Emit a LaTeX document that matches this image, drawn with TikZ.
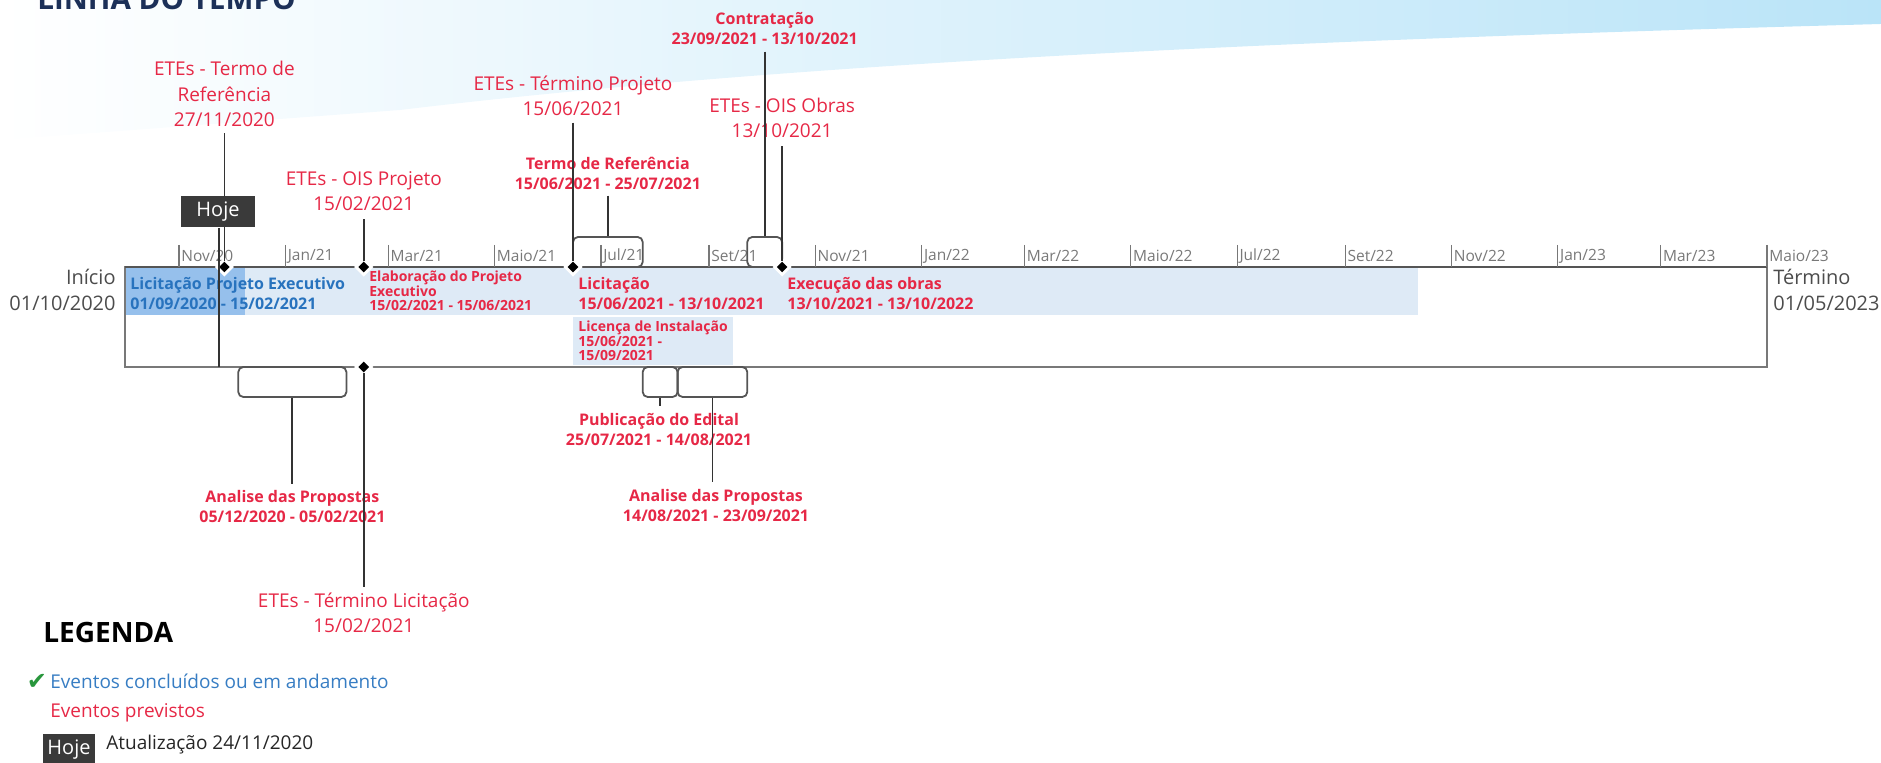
\documentclass[tikz,border=0pt]{standalone}
\usepackage{fontspec}
\setmainfont{Open Sans}
\newfontfamily\symfont{DejaVu Sans}
\usetikzlibrary{shapes.geometric,fit}
\definecolor{evred}{RGB}{230,40,70}
\definecolor{evblue}{RGB}{40,115,190}
\definecolor{legblue}{RGB}{55,125,195}
\definecolor{barblue}{RGB}{222,234,246}
\definecolor{progblue}{RGB}{150,192,236}
\definecolor{axisgray}{RGB}{85,85,85}
\definecolor{boxgray}{RGB}{120,120,120}
\definecolor{tickgray}{RGB}{120,120,120}
\definecolor{hojegray}{RGB}{58,58,58}
\definecolor{bandblue}{RGB}{186,228,248}
\definecolor{titleblue}{RGB}{28,48,88}
\definecolor{checkgreen}{RGB}{40,150,60}
\tikzset{
  big/.style={text=evred, font=\fontsize{9.5}{12.75}\selectfont, align=center, inner sep=0pt},
  lbl/.style={text=evred, font=\bfseries\fontsize{8}{10}\selectfont, align=center, inner sep=0pt},
  barlbl/.style={font=\bfseries\fontsize{8}{10}\selectfont, align=left, inner sep=0pt, anchor=west},
  barsmall/.style={text=evred, font=\bfseries\fontsize{7}{7.2}\selectfont, align=left, inner sep=0pt, anchor=west},
  tickline/.style={draw=tickgray, line width=0.6pt},
  ticklbl/.style={text=tickgray, font=\fontsize{7.75}{9}\selectfont, anchor=west, inner sep=0pt},
  conn/.style={draw=black!80, line width=0.9pt},
  bracket/.style={draw=axisgray, line width=0.9pt, rounded corners=2.5pt, inner sep=0pt},
  dmd/.style={diamond, fill=black, inner sep=0pt, minimum size=5.5pt, preaction={draw=white, line width=3pt}},
  hojebox/.style={fill=hojegray, text=white, font=\fontsize{10}{12}\selectfont, minimum width=37pt, minimum height=15.5pt, inner sep=0pt},
  side/.style={text=black!70, font=\fontsize{10}{13}\selectfont, inner sep=0pt},
  legtxt/.style={font=\fontsize{9.5}{11}\selectfont, anchor=west, inner sep=0pt}
}
\begin{document}
\begin{tikzpicture}[x=0.5pt, y=-0.5pt]
\useasboundingbox (0,0) rectangle (1881,763);
\clip (0,0) rectangle (1881,763);
% background band
\shade[left color=white, right color=bandblue] (0,0) -- (1881,0) -- (1881,24) .. controls (1300,40) and (800,62) .. (400,110) -- (0,140) -- cycle;
% title
\node[anchor=base west, text=titleblue, font=\bfseries\fontsize{14.8}{16}\selectfont, inner sep=0pt] (title) at (37,10) {LINHA DO TEMPO};
% bars
\fill[barblue] (125,268) rectangle (1418.4,315);
\fill[progblue] (125,268) rectangle (245,315);
\fill[barblue] (573,317) rectangle (733.3,365);
% bar labels
\node[barlbl, text=evblue] (bLPE) at (130,294) {Licitação Projeto Executivo\\01/09/2020 - 15/02/2021};
\node[barsmall] (bElab) at (369,291) {Elaboração do Projeto\\Executivo\\15/02/2021 - 15/06/2021};
\node[barlbl, text=evred] (bLic) at (578,294) {Licitação\\15/06/2021 - 13/10/2021};
\node[barlbl, text=evred] (bExe) at (787,294) {Execução das obras\\13/10/2021 - 13/10/2022};
\node[barsmall] (bLI) at (578,341) {Licença de Instalação\\15/06/2021 -\\15/09/2021};
% box and axis
\draw[draw=boxgray, line width=0.7pt] (125,267) rectangle (1767,367);
\draw[draw=axisgray, line width=0.8pt] (125,267) -- (1767,267);
% side labels
\node[side, anchor=east, align=right] (inicio) at (116,290) {Início\\01/10/2020};
\node[side, anchor=west, align=left] (termino) at (1773,290) {Término\\01/05/2023};
% month ticks
\foreach \xx/\m [count=\i] in {179.0/{Nov/20},285.4/{Jan/21},388.2/{Mar/21},494.5/{Maio/21},600.9/{Jul/21},708.9/{Set/21},815.3/{Nov/21},921.6/{Jan/22},1024.4/{Mar/22},1130.8/{Maio/22},1237.1/{Jul/22},1345.2/{Set/22},1451.5/{Nov/22},1557.8/{Jan/23},1660.6/{Mar/23},1767/{Maio/23}}{
  \draw[tickline] (\xx,245) -- (\xx,267);
  \node[ticklbl] (tk\i) at (\xx+2,256) {\m};
}
% brackets
\node[bracket, fit={(573,237) (642.7,267)}] (brTR) {};
\node[bracket, fit={(747.3,237) (782.1,267)}] (brCT) {};
\node[bracket, fit={(238.3,367) (346.4,397)}] (brAP1) {};
\node[bracket, fit={(642.7,367) (677.6,397)}] (brPE) {};
\node[bracket, fit={(677.6,367) (747.3,397)}] (brAP2) {};
% diamonds
\node[dmd] (dTR) at (224.4,267) {};
\node[dmd] (dOP) at (363.8,267) {};
\node[dmd] (dTP) at (573,267) {};
\node[dmd] (dOO) at (782.1,267) {};
\node[dmd] (dTL) at (363.8,367) {};
% labels
\node[big] (lTR) at (224.4,94) {ETEs - Termo de\\Referência\\27/11/2020};
\node[big] (lOP) at (363.8,191) {ETEs - OIS Projeto\\15/02/2021};
\node[big] (lTP) at (573,96) {ETEs - Término Projeto\\15/06/2021};
\node[big] (lOO) at (782.1,118) {ETEs - OIS Obras\\13/10/2021};
\node[lbl] (lTRb) at (607.85,173) {Termo de Referência\\15/06/2021 - 25/07/2021};
\node[lbl] (lCT) at (764.7,29) {Contratação\\23/09/2021 - 13/10/2021};
\node[lbl] (lAP1) at (292.4,507) {Analise das Propostas\\05/12/2020 - 05/02/2021};
\node[big] (lTL) at (363.8,613) {ETEs - Término Licitação\\15/02/2021};
\node[lbl] (lPE) at (659,430) {Publicação do Edital\\25/07/2021 - 14/08/2021};
\node[lbl] (lAP2) at (716,506) {Analise das Propostas\\14/08/2021 - 23/09/2021};
% connectors
\draw[conn, shorten <=3pt] (lTR.south) -- (dTR.north);
\draw[conn, shorten <=4pt] (lOP.south) -- (dOP.north);
\draw[conn, shorten <=3pt] (lTP.south) -- (dTP.north);
\draw[conn, shorten <=4pt] (lOO.south) -- (dOO.north);
\draw[conn, shorten <=3pt] (lTRb.south -| brTR.north) -- (brTR.north);
\draw[conn, shorten <=3pt] (lCT.south -| brCT.north) -- (brCT.north);
\draw[conn, shorten >=3pt] (brAP1.south) -- (brAP1.south |- lAP1.north);
\draw[conn, shorten >=2.5pt] (dTL.south) -- (lTL.north);
\draw[conn, shorten >=3.75pt] (brPE.south) -- (brPE.south |- lPE.north);
\draw[conn, shorten >=3.75pt] (brAP2.south) -- (brAP2.south |- lAP2.north);
% hoje
\coordinate (hojeEnd) at (219.1,367);
\node[hojebox] (hoje) at (218,212) {Hoje};
\draw[conn] (hoje.south -| hojeEnd) -- (hojeEnd);
% legend
\node[anchor=west, font=\bfseries\fontsize{14}{16}\selectfont, inner sep=0pt] (legenda) at (43,633) {LEGENDA};
\node[text=checkgreen, font=\symfont\fontsize{12}{13}\selectfont, inner sep=0pt] (chk) at (37,682) {✔};
\node[legtxt, text=legblue] (concl) at (50,681) {Eventos concluídos ou em andamento};
\node[legtxt, text=evred] (prev) at (50,713) {Eventos previstos};
\node[hojebox, minimum width=26pt] (hojeLeg) at (69,750) {Hoje};
\node[legtxt, text=black!85] (atual) at (106,745) {Atualização 24/11/2020};
\end{tikzpicture}
\end{document}
